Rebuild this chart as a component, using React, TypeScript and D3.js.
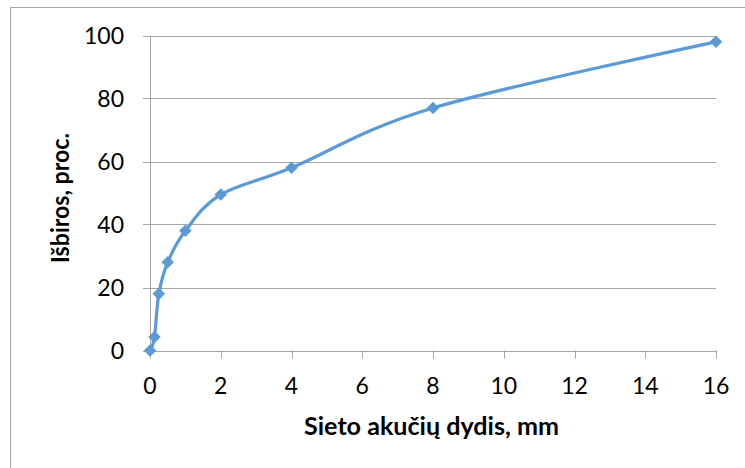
import React from "react";
import * as d3 from "d3";

// Sieve opening size (mm) and cumulative passing (%)
const sieveSizes = [0, 0.125, 0.25, 0.5, 1, 2, 4, 8, 16];
const passing = [0, 4.3, 18, 28, 38, 49.5, 58, 77, 98];

const xTicks = [0, 2, 4, 6, 8, 10, 12, 14, 16];
const yTicks = [0, 20, 40, 60, 80, 100];

const xTitle = "Sieto akučių dydis, mm";
const yTitle = "Išbiros, proc.";

const W = 745;
const H = 468;
const left = 150;
const right = 716;
const top = 35.5;
const bottom = 350.5;

const font = "Lato, 'Open Sans', sans-serif";
const lineColor = "#5B9BD5";
const gridColor = "#A6A6A6";

export default function App() {
  const x = d3.scaleLinear().domain([0, 16]).range([left, right]);
  const y = d3.scaleLinear().domain([0, 100]).range([bottom, top]);

  const pts: [number, number][] = sieveSizes.map((s, i) => [x(s), y(passing[i])]);
  const path = d3.line().curve(d3.curveCardinal.tension(0))(pts) || "";
  const diamond = d3.symbol().type(d3.symbolDiamond2).size(100)() || "";

  return (
    <svg
      width={W}
      height={H}
      style={{ position: "absolute", left: 0, top: 0, background: "#fff" }}
    >
      <rect x={10.5} y={7.5} width={W + 20} height={H + 20} fill="#fff" stroke="#A6A6A6" strokeWidth={1} />

      {/* horizontal gridlines and y ticks */}
      {yTicks.map((t) => (
        <g key={"y" + t}>
          <line
            x1={left - 7}
            x2={right}
            y1={Math.round(y(t)) + 0.5}
            y2={Math.round(y(t)) + 0.5}
            stroke={gridColor}
            strokeWidth={1}
          />
          <text
            x={124}
            y={y(t) + 8.5}
            textAnchor="end"
            fontFamily={font}
            fontSize={23}
            fill="#000"
          >
            {t}
          </text>
        </g>
      ))}

      {/* y axis */}
      <line x1={left + 0.5} x2={left + 0.5} y1={top} y2={bottom + 8} stroke={gridColor} strokeWidth={1} />

      {/* x ticks */}
      {xTicks.map((t) => (
        <g key={"x" + t}>
          <line
            x1={Math.round(x(t)) + 0.5}
            x2={Math.round(x(t)) + 0.5}
            y1={bottom}
            y2={bottom + 8}
            stroke={gridColor}
            strokeWidth={1}
          />
          <text
            x={x(t)}
            y={394}
            textAnchor="middle"
            fontFamily={font}
            fontSize={23}
            fill="#000"
          >
            {t}
          </text>
        </g>
      ))}

      {/* curve */}
      <path d={path} fill="none" stroke={lineColor} strokeWidth={3.25} strokeLinejoin="round" />
      {pts.map(([px, py], i) => (
        <path key={"m" + i} d={diamond} transform={`translate(${px},${py})`} fill={lineColor} />
      ))}

      {/* axis titles */}
      <text
        x={431.5}
        y={435}
        textAnchor="middle"
        fontFamily={font}
        fontWeight="bold"
        fontSize={24}
        textLength={255}
        lengthAdjust="spacingAndGlyphs"
        fill="#000"
      >
        {xTitle}
      </text>
      <text
        transform={`translate(69,198) rotate(-90)`}
        textAnchor="middle"
        fontFamily={font}
        fontWeight="bold"
        fontSize={24}
        textLength={130}
        lengthAdjust="spacingAndGlyphs"
        fill="#000"
      >
        {yTitle}
      </text>
    </svg>
  );
}
